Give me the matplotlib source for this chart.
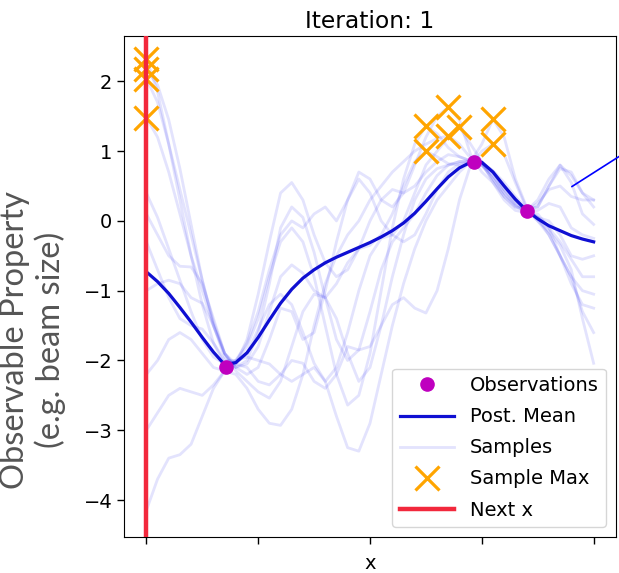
import numpy as np
import matplotlib
matplotlib.use("Agg")
import matplotlib.pyplot as plt
from matplotlib.lines import Line2D

# ---------------- data ----------------
x_grid = [i * 0.025 for i in range(41)]

post_mean = [-0.73, -0.87, -1.04, -1.24, -1.45, -1.67, -1.88, -2.06, -2.03, -1.89,
             -1.67, -1.42, -1.18, -0.98, -0.82, -0.70, -0.60, -0.52, -0.45, -0.38,
             -0.31, -0.23, -0.14, -0.03, 0.11, 0.28, 0.46, 0.63, 0.76, 0.84,
             0.84, 0.70, 0.50, 0.31, 0.15, 0.03, -0.07, -0.14, -0.21, -0.26, -0.30]

samples = [
    [2.32, 1.85, 1.10, 0.30, -0.50, -1.20, -1.75, -2.05, -2.05, -1.70,
     -1.05, -0.30, 0.40, 0.55, 0.30, -0.20, -0.60, -0.80, -0.70, -0.40,
     0.00, 0.30, 0.45, 0.40, 0.50, 0.70, 0.85, 0.95, 0.92, 0.86,
     0.80, 0.60, 0.40, 0.25, 0.15, 0.25, 0.45, 0.50, 0.35, 0.30, 0.30],
    [2.18, 1.95, 1.45, 0.75, -0.05, -0.85, -1.50, -1.95, -2.10, -2.00,
     -1.60, -0.90, -0.10, 0.20, 0.05, -0.45, -1.10, -1.70, -2.00, -1.85,
     -1.30, -0.70, -0.30, -0.10, 0.10, 0.40, 0.65, 0.80, 0.85, 0.85,
     0.80, 0.65, 0.45, 0.30, 0.15, 0.05, 0.00, -0.20, -0.50, -0.55, -0.50],
    [2.04, 1.70, 1.10, 0.45, -0.20, -0.85, -1.45, -1.90, -2.15, -2.30,
     -2.45, -2.54, -2.30, -1.80, -1.30, -1.05, -1.10, -1.40, -1.90, -2.30,
     -2.10, -1.50, -0.80, -0.20, 0.30, 0.60, 0.75, 0.80, 0.85, 0.87,
     0.85, 0.70, 0.45, 0.25, 0.14, 0.00, -0.20, -0.50, -0.80, -1.00, -1.05],
    [1.48, 1.20, 0.70, 0.10, -0.50, -1.00, -1.50, -1.90, -2.05, -1.90,
     -1.55, -1.20, -1.05, -1.20, -1.60, -2.04, -2.30, -2.10, -1.60, -1.00,
     -0.50, -0.25, -0.20, -0.30, -0.20, 0.10, 0.45, 0.70, 0.82, 0.85,
     0.83, 0.72, 0.55, 0.35, 0.17, 0.05, -0.10, -0.30, -0.55, -0.80, -0.80],
    [0.40, 0.05, -0.40, -0.85, -1.30, -1.70, -1.95, -2.05, -2.00, -1.80,
     -1.40, -0.80, -0.30, -0.10, -0.30, -0.80, -1.50, -2.20, -2.64, -2.50,
     -1.90, -1.00, -0.10, 0.60, 1.10, 1.36, 1.25, 1.05, 0.92, 0.86,
     0.82, 0.70, 0.50, 0.30, 0.15, 0.20, 0.50, 0.75, 0.70, 0.40, 0.20],
    [0.10, -0.20, -0.50, -0.65, -0.66, -0.90, -1.40, -1.90, -2.10, -2.05,
     -1.80, -1.30, -0.80, -0.63, -0.75, -1.00, -1.10, -0.90, -0.60, -0.40,
     -0.35, -0.20, 0.10, 0.50, 0.85, 1.00, 0.92, 0.82, 0.80, 0.84,
     0.82, 0.65, 0.40, 0.22, 0.13, 0.15, 0.25, 0.20, -0.10, -0.20, -0.25],
    [-0.30, -0.70, -1.10, -1.40, -1.50, -1.55, -1.75, -2.00, -2.00, -1.75,
     -1.30, -0.70, -0.20, 0.00, -0.10, 0.10, 0.20, 0.00, 0.30, 0.70,
     0.60, 0.30, 0.20, 0.40, 0.80, 1.20, 1.50, 1.63, 1.45, 0.95,
     0.70, 0.55, 0.35, 0.20, 0.15, 0.30, 0.60, 0.80, 0.65, 0.40, 0.30],
    [-1.00, -0.90, -0.85, -0.90, -1.10, -1.18, -1.50, -1.90, -2.10, -2.20,
     -2.10, -1.70, -1.25, -1.30, -1.70, -1.60, -1.00, -0.30, 0.30, 0.60,
     0.40, 0.00, -0.20, 0.00, 0.40, 0.80, 1.00, 1.20, 1.34, 1.10,
     0.85, 0.55, 0.30, 0.15, 0.12, 0.10, -0.10, -0.50, -0.90, -1.20, -1.25],
    [-2.20, -2.00, -1.70, -1.60, -1.70, -1.90, -2.10, -2.15, -2.20, -2.40,
     -2.70, -2.90, -2.93, -2.70, -2.20, -1.50, -0.90, -0.50, -0.20, 0.00,
     0.30, 0.50, 0.70, 0.85, 1.00, 1.10, 1.18, 1.22, 1.10, 0.90,
     0.80, 0.60, 0.35, 0.20, 0.15, 0.05, -0.20, -0.50, -0.80, -1.30, -1.60],
    [-3.00, -2.75, -2.50, -2.40, -2.45, -2.50, -2.35, -2.15, -2.00, -1.95,
     -2.00, -2.05, -2.20, -2.30, -2.20, -2.10, -2.30, -2.80, -3.25, -3.30,
     -2.90, -2.20, -1.50, -0.90, -0.40, 0.00, 0.30, 0.50, 0.70, 0.85,
     1.10, 1.46, 1.20, 0.60, 0.20, 0.00, -0.15, -0.35, -0.70, -1.40, -2.04],
    [-4.15, -3.70, -3.40, -3.35, -3.20, -2.80, -2.40, -2.15, -2.05, -2.10,
     -2.30, -2.35, -2.20, -2.00, -2.04, -2.30, -2.40, -2.20, -1.80, -1.85,
     -1.80, -1.50, -1.20, -1.10, -1.25, -1.32, -1.00, -0.40, 0.30, 0.80,
     1.00, 1.10, 0.95, 0.55, 0.18, 0.20, 0.50, 0.80, 0.55, 0.10, -0.05],
]

obs_x = [0.179, 0.733, 0.851]
obs_y = [-2.09, 0.85, 0.14]
next_x = 0.0

x_ticks = [0.0, 0.25, 0.5, 0.75, 1.0]
y_ticks = [-4, -3, -2, -1, 0, 1, 2]

# ---------------- style ----------------
plt.rcParams['font.family'] = ['DejaVu Sans']
plt.rcParams['font.size'] = 14

W, H = 619, 573
fig = plt.figure(figsize=(W / 100, H / 100), dpi=100)
ax = fig.add_axes([124 / W, 1 - 537 / H, 492 / W, 501 / H])

mean_color = '#0f0fd2'
sample_color = (0.1, 0.1, 0.95)
red_color = '#f2283c'

xg = np.array(x_grid)
for s in samples:
    ax.plot(xg, s, color=sample_color, alpha=0.12, lw=2.0, zorder=1)

ax.plot(xg, post_mean, color=mean_color, lw=2.3, zorder=3)
ax.plot(obs_x, obs_y, 'o', color='m', ms=9.5, zorder=4)

max_x = [x_grid[int(np.argmax(s))] for s in samples]
max_y = [max(s) for s in samples]
ax.plot(max_x, max_y, 'x', color='orange', ms=17, mew=2.3, ls='none', zorder=5)

ax.axvline(next_x, color=red_color, lw=3.2, zorder=6)

ax.set_xlim(-0.05, 1.05)
ax.set_ylim(-4.53, 2.65)
ax.set_xticks(x_ticks)
ax.set_xticklabels([''] * len(x_ticks))
ax.set_yticks(y_ticks)
ax.tick_params(length=4.8, width=1.0, labelsize=14)
ax.set_xlabel('x', fontsize=14)
ax.set_title('Iteration: 1', fontsize=16.8)

handles = [
    Line2D([], [], marker='o', color='m', ls='none', ms=9.5),
    Line2D([], [], color=mean_color, lw=2.3),
    Line2D([], [], color=sample_color, alpha=0.12, lw=2.0),
    Line2D([], [], marker='x', color='orange', ls='none', ms=17, mew=2.3),
    Line2D([], [], color=red_color, lw=3.2),
]
labels = ['Observations', 'Post. Mean', 'Samples', 'Sample Max', 'Next x']
ax.legend(handles, labels, loc='lower right', fontsize=14, handlelength=2.8,
          labelspacing=0.62)

fig.text(33 / W, 1 - 340 / H, 'Observable Property\n(e.g. beam size)',
         rotation=90, ha='center', va='center', multialignment='center',
         family='Lato', fontsize=23.5, color='#555555', linespacing=1.2)

ax.annotate('', xy=(0.946, 0.47), xycoords='data',
            xytext=(1.08, 1 - 125 / H), textcoords='figure fraction',
            arrowprops=dict(arrowstyle='-', color='blue', lw=1.2),
            annotation_clip=False)

fig.savefig('out.png', dpi=100)
